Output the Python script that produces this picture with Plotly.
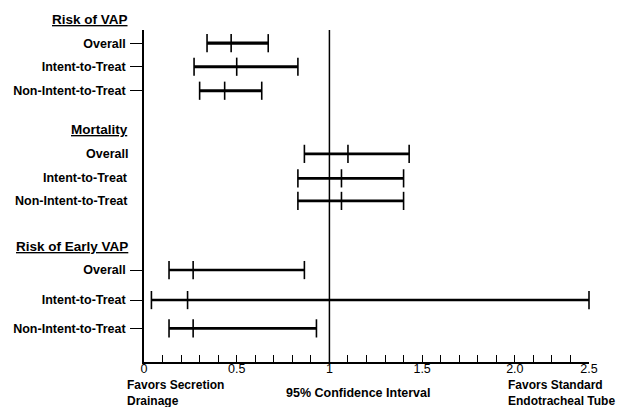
import plotly.graph_objects as go

# ---- data ----
groups = ["Risk of VAP", "Mortality", "Risk of Early VAP"]
rows = ["Overall", "Intent-to-Treat", "Non-Intent-to-Treat"]

vap_lo = [0.34, 0.27, 0.30]
vap_mid = [0.47, 0.50, 0.435]
vap_hi = [0.67, 0.83, 0.635]

mort_lo = [0.865, 0.83, 0.83]
mort_mid = [1.10, 1.065, 1.065]
mort_hi = [1.43, 1.40, 1.40]

early_lo = [0.135, 0.04, 0.135]
early_mid = [0.265, 0.235, 0.265]
early_hi = [0.865, 2.40, 0.93]

x_tick_vals = [0, 0.5, 1, 1.5, 2.0, 2.4]
x_tick_text = ["0", "0.5", "1", "1.5", "2.0", "2.5"]

# ---- layout positions (row centres in axis units) ----
Y_MAX = 13.83
row_pos = [[13.28, 12.30, 11.30], [8.67, 7.65, 6.71], [3.83, 2.58, 1.40]]
header_pos = [14.25, 9.67, 4.80]

los = [vap_lo, mort_lo, early_lo]
mids = [vap_mid, mort_mid, early_mid]
his = [vap_hi, mort_hi, early_hi]
widths = [3.2, 2.6, 2.6]

FONT = "Liberation Sans, Arial, sans-serif"
fig = go.Figure()

for g in range(3):
    for r in range(3):
        y = row_pos[g][r]
        fig.add_trace(go.Scatter(
            x=[los[g][r], his[g][r]], y=[y, y], mode="lines",
            line=dict(color="black", width=widths[g]),
            hoverinfo="skip", showlegend=False, cliponaxis=False))
        fig.add_trace(go.Scatter(
            x=[los[g][r], mids[g][r], his[g][r]], y=[y, y, y], mode="markers",
            marker=dict(symbol="line-ns", size=13,
                        line=dict(color="black", width=1.6)),
            hoverinfo="skip", showlegend=False, cliponaxis=False))

# reference line at 1
fig.add_shape(type="line", xref="x", yref="paper", x0=1, x1=1, y0=0, y1=1,
              line=dict(color="black", width=1.5))

# group headers
for g in range(3):
    fig.add_annotation(x=0, xref="paper", y=header_pos[g] / Y_MAX, yref="paper",
                       text="<b><u>%s</u></b>" % groups[g], showarrow=False,
                       xanchor="right", yanchor="middle", xshift=-14,
                       font=dict(family=FONT, size=13.5, color="black"))

# mortality row labels (no tick marks in the reference)
for r in range(3):
    fig.add_annotation(x=0, xref="paper", y=row_pos[1][r], yref="y",
                       text="<b>%s</b>" % rows[r], showarrow=False,
                       xanchor="right", yanchor="middle", xshift=-14,
                       font=dict(family=FONT, size=12.5, color="black"))

# bottom texts
fig.add_annotation(x=0, xref="paper", y=0, yref="paper", yshift=-14,
                   text="<b>Favors Secretion<br>Drainage</b>", showarrow=False,
                   xanchor="left", yanchor="top", align="left", xshift=-19,
                   font=dict(family=FONT, size=12, color="black"))
fig.add_annotation(x=1, xref="x", y=0, yref="paper", yshift=-22,
                   text="<b>95% Confidence Interval</b>", showarrow=False,
                   xanchor="center", yanchor="top", xshift=29,
                   font=dict(family=FONT, size=12.5, color="black"))
fig.add_annotation(x=2.0, xref="x", y=0, yref="paper", yshift=-14,
                   text="<b>Favors Standard<br>Endotracheal Tube</b>", showarrow=False,
                   xanchor="left", yanchor="top", align="left", xshift=-9,
                   font=dict(family=FONT, size=12, color="black"))

tick_y = row_pos[0] + row_pos[2]
tick_t = ["<b>%s</b>" % t for t in rows + rows]

fig.update_layout(
    width=623, height=407,
    margin=dict(l=144, r=34, t=30, b=45),
    plot_bgcolor="white", paper_bgcolor="white",
    font=dict(family=FONT, color="black"),
    xaxis=dict(range=[0, 2.4], showgrid=False, zeroline=False,
               showline=True, linecolor="black", linewidth=1.6,
               tickvals=x_tick_vals, ticktext=x_tick_text,
               ticks="inside", ticklen=7, tickwidth=1.2, tickcolor="black",
               ticklabelstandoff=-6,
               tickfont=dict(family=FONT, size=12.5, color="black"),
               minor=dict(dtick=0.1, tick0=0, ticks="inside", ticklen=7,
                          tickwidth=1.2, tickcolor="black", showgrid=False)),
    yaxis=dict(range=[0, Y_MAX], showgrid=False, zeroline=False,
               showline=True, linecolor="black", linewidth=1.6,
               tickvals=tick_y, ticktext=tick_t,
               ticks="outside", ticklen=12, tickwidth=1.2, tickcolor="black",
               ticklabelstandoff=2,
               tickfont=dict(family=FONT, size=12.5, color="black")),
)

fig.write_html("out.html", config={"displayModeBar": False},
               post_script="document.body.style.margin='0';document.body.style.overflow='hidden';")
